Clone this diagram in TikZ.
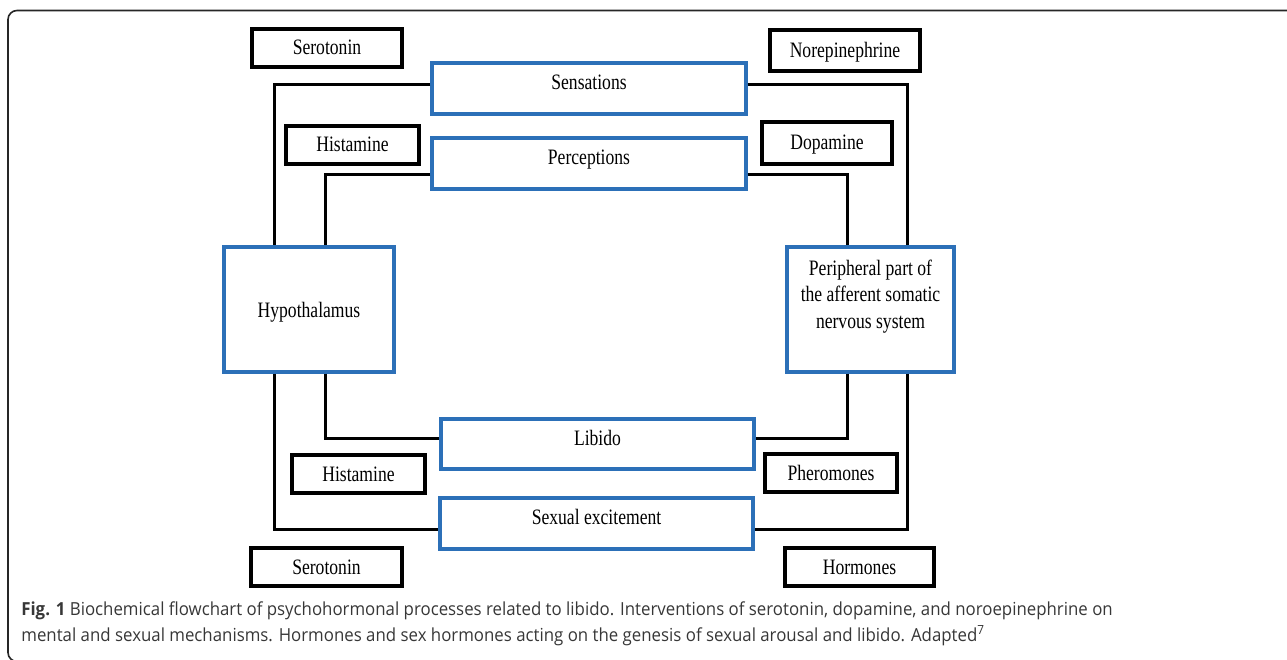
\documentclass[tikz,border=0pt]{standalone}
\usepackage{fontspec}
\setmainfont{Liberation Serif}[FakeStretch=0.8]
\newfontfamily\capfont{Open Sans}[FakeStretch=0.935]
\definecolor{procblue}{RGB}{44,112,184}
\definecolor{capgray}{RGB}{55,55,55}

\tikzset{every picture/.style={line width=0.75pt}}
\tikzset{
  chembox/.style={draw=black, line width=3.1pt, inner sep=0pt, font=\fontsize{22}{26.5}\selectfont, text height=14pt, text depth=0pt},
  procbox/.style={draw=procblue, line width=3.3pt, inner sep=0pt, font=\fontsize{22}{26.5}\selectfont, text height=15pt, text depth=13pt},
  link/.style={line width=3pt},
  captext/.style={anchor=base west, inner sep=0pt, text=capgray, font=\capfont\fontsize{18}{22}\selectfont}
}

\begin{document}
\begin{tikzpicture}[x=1pt,y=1pt,yscale=-1,xscale=1]
	\useasboundingbox (0,0) rectangle (1287,660);
	\clip (0,0) rectangle (1287,660);

	%Shape: Frame
	\draw [line width=1.6pt, rounded corners=9pt, color=black!85] (1295,10.5) -- (8,10.5) -- (8,661.5) -- (40,661.5) ;

	%Shape: Process boxes
	\node [procbox, minimum width=314, minimum height=51] (sens) at (589,88.5) {Sensations};
	\node [procbox, minimum width=314, minimum height=51] (perc) at (589,163.5) {Perceptions};
	\node [procbox, minimum width=170, minimum height=125, text depth=0pt] (hypo) at (309,309.5) {Hypothalamus};
	\node [procbox, minimum width=167, minimum height=125, align=center, text height=42pt, text depth=5pt] (peri) at (870.5,309.5) {Peripheral part of\\the afferent somatic\\nervous system};
	\node [procbox, minimum width=313, minimum height=50] (lib) at (597.5,444) {Libido};
	\node [procbox, minimum width=313, minimum height=51] (sex) at (596.5,523.5) {Sexual excitement};

	%Shape: Substance boxes
	\node [chembox, minimum width=150, minimum height=38] (sero1) at (327,48) {Serotonin};
	\node [chembox, minimum width=150, minimum height=41] (norepi) at (845,50.5) {Norepinephrine};
	\node [chembox, minimum width=133, minimum height=38] (hist1) at (352.5,145) {Histamine};
	\node [chembox, minimum width=130, minimum height=42] (dopa) at (827,143) {Dopamine};
	\node [chembox, minimum width=133, minimum height=38] (hist2) at (358.5,474) {Histamine};
	\node [chembox, minimum width=132, minimum height=38] (phero) at (831,473) {Pheromones};
	\node [chembox, minimum width=151, minimum height=38] (sero2) at (326.5,567) {Serotonin};
	\node [chembox, minimum width=149, minimum height=38] (horm) at (859.5,567) {Hormones};

	%Straight Lines: upper loops (yshift is flipped by yscale=-1)
	\draw [link] ([yshift=-3.5pt]sens.west) -| ([xshift=-35pt]hypo.north) ;
	\draw [link] ([yshift=11.5pt]perc.west) -| ([xshift=16pt]hypo.north) ;
	\draw [link] ([yshift=-3.5pt]sens.east) -| ([xshift=36.5pt]peri.north) ;
	\draw [link] ([yshift=11.5pt]perc.east) -| ([xshift=-23.5pt]peri.north) ;
	%Straight Lines: lower loops
	\draw [link] ([xshift=16pt]hypo.south) |- ([yshift=-6pt]lib.west) ;
	\draw [link] ([xshift=-35pt]hypo.south) |- ([yshift=5.5pt]sex.west) ;
	\draw [link] ([xshift=-23.5pt]peri.south) |- ([yshift=-6pt]lib.east) ;
	\draw [link] ([xshift=36.5pt]peri.south) |- ([yshift=5.5pt]sex.east) ;

	% Text Node
	\node [captext] (cap1) at (21,615) {\textbf{Fig. 1} Biochemical flowchart of psychohormonal processes related to libido. Interventions of serotonin, dopamine, and noroepinephrine on};
	% Text Node
	\node [captext] (cap2) at (21,641) {mental and sexual mechanisms. Hormones and sex hormones acting on the genesis of sexual arousal and libido. Adapted\textsuperscript{7}};

\end{tikzpicture}
\end{document}
